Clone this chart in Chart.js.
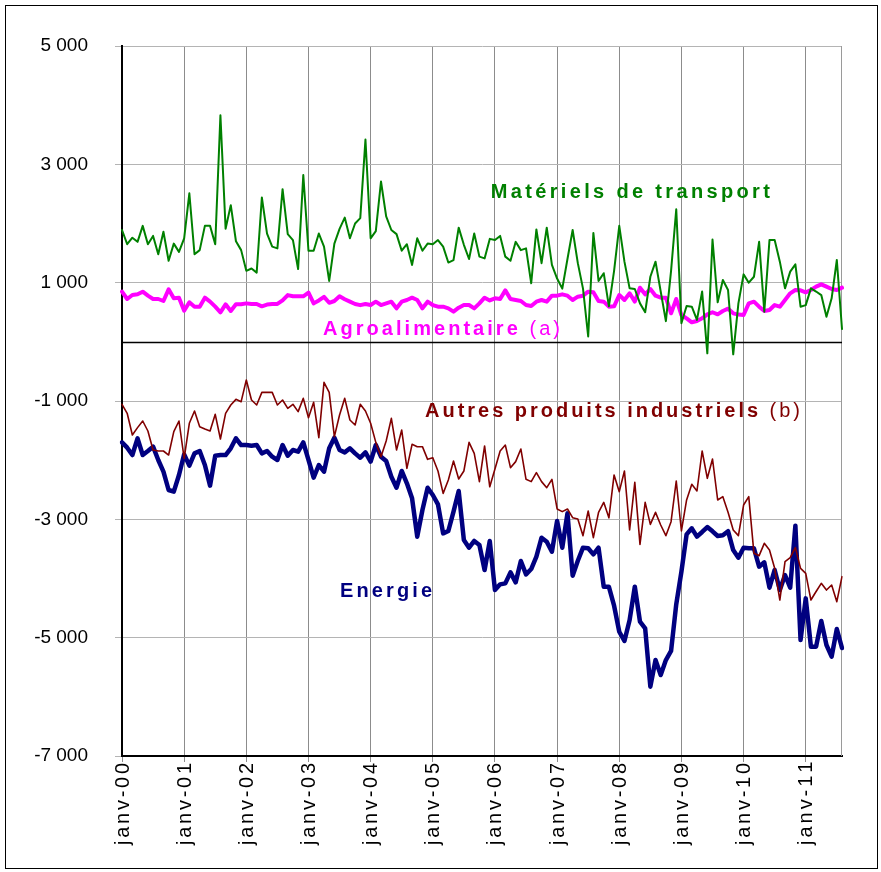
<!DOCTYPE html>
<html lang="fr">
<head>
<meta charset="UTF-8">
<title>Solde commercial par produit</title>
<script src="https://cdn.jsdelivr.net/npm/chart.js@4"></script>
<style>
  html, body { margin: 0; padding: 0; background: #fff; }
  #cadre { position: absolute; left: 0; top: 0; width: 881px; height: 872px; }
  #bord { position: absolute; left: 5px; top: 5px; width: 871px; height: 862px; border: 1px solid #000; pointer-events: none; }
</style>
</head>
<body>
<div id="cadre"><canvas id="graphique" width="881" height="872"></canvas></div>
<div id="bord"></div>
<script>
// mois de janv-00 a août-11
const annees = ['00', '01', '02', '03', '04', '05', '06', '07', '08', '09', '10', '11'];
const mois = ['janv', 'févr', 'mars', 'avr', 'mai', 'juin', 'juil', 'août', 'sept', 'oct', 'nov', 'déc'];
const categories = [];
annees.forEach(a => mois.forEach(m => { if (categories.length < 140) categories.push(m + '-' + a); }));

const materielsTransport = [
  1890, 1650, 1760, 1690, 1960, 1650, 1790, 1480, 1860, 1370, 1660, 1520,
  1750, 2510, 1480, 1550, 1960, 1960, 1650, 3830, 1910, 2310, 1700, 1550,
  1200, 1240, 1170, 2440, 1830, 1610, 1580, 2580, 1820, 1720, 1230, 2820,
  1540, 1540, 1830, 1610, 1030, 1660, 1910, 2100, 1750, 2000, 2090, 3420,
  1750, 1870, 2710, 2120, 1890, 1820, 1540, 1650, 1300, 1750, 1540, 1660,
  1650, 1720, 1610, 1340, 1380, 1930, 1640, 1400, 1830, 1440, 1410, 1740,
  1720, 1790, 1440, 1370, 1690, 1550, 1580, 990, 1900, 1330, 1930, 1300,
  1070, 900, 1400, 1890, 1330, 900, 90, 1840, 1030, 1160, 600, 1200,
  1960, 1355, 904, 893, 650, 500, 1100, 1355, 850, 350, 1200, 2240,
  313, 605, 594, 370, 850, -195, 1730, 668, 1045, 876, -211, 650,
  1140, 1000, 1100, 1690, 510, 1720, 1720, 1355, 904, 1186, 1310, 594,
  620, 904, 850, 790, 425, 735, 1383, 217
];
const agroalimentaire = [
  848, 724, 792, 803, 848, 780, 724, 724, 690, 887, 735, 746,
  527, 668, 594, 594, 746, 679, 594, 499, 634, 521, 634, 634,
  650, 640, 640, 600, 630, 640, 640, 700, 790, 770, 770, 770,
  830, 650, 700, 760, 660, 690, 770, 720, 680, 640, 620, 640,
  622, 679, 622, 650, 679, 566, 679, 707, 746, 707, 566, 679,
  622, 594, 594, 566, 510, 577, 622, 622, 566, 650, 746, 700,
  735, 724, 870, 724, 707, 690, 622, 605, 679, 707, 679, 780,
  780, 803, 780, 707, 763, 780, 848, 837, 690, 679, 594, 600,
  792, 707, 820, 679, 915, 803, 893, 780, 746, 746, 482, 724,
  453, 397, 330, 352, 397, 465, 500, 465, 521, 560, 482, 460,
  453, 650, 679, 594, 521, 538, 622, 594, 707, 820, 876, 870,
  837, 876, 932, 972, 932, 893, 876, 915
];
const autresProduits = [
  -1056, -1208, -1575, -1450, -1338, -1507, -1828, -1845, -1845, -1913, -1518, -1338,
  -1969, -1377, -1169, -1434, -1473, -1507, -1225, -1642, -1208, -1068, -972, -1011,
  -645, -983, -1068, -854, -854, -854, -1068, -983, -1124, -1056, -1180, -955,
  -1282, -1023, -1620, -684, -854, -1603, -1237, -955, -1321, -1406, -1056, -1170,
  -1377, -1699, -1941, -1676, -1293, -1828, -1490, -2138, -1732, -1772, -1772, -1986,
  -1958, -2183, -2561, -2335, -2014, -2318, -2183, -1699, -1885, -2363, -1760, -2450,
  -2150, -1845, -1744, -2127, -2025, -1811, -2324, -2363, -2211, -2363, -2465, -2324,
  -2825, -2870, -2825, -2972, -2994, -3276, -2859, -3310, -2882, -2713, -2975, -2250,
  -2532, -2183, -3180, -2375, -3423, -2713, -3085, -2882, -3096, -3276, -3040, -2352,
  -3197, -2673, -2409, -2521, -1845, -2307, -1980, -2673, -2617, -2880, -3180, -3276,
  -2758, -2617, -3575, -3614, -3406, -3518, -3828, -4364, -3716, -3648, -3479, -3828,
  -3913, -4364, -4220, -4082, -4195, -4110, -4392, -3969
];
const energie = [
  -1699, -1789, -1913, -1631, -1913, -1845, -1772, -1997, -2194, -2504, -2532, -2251,
  -1901, -2093, -1885, -1845, -2082, -2431, -1924, -1913, -1913, -1800, -1631, -1744,
  -1744, -1755, -1744, -1885, -1845, -1941, -1997, -1744, -1924, -1828, -1856, -1699,
  -1997, -2296, -2082, -2194, -1800, -1620, -1828, -1868, -1800, -1885, -1958, -1868,
  -2025, -1744, -1941, -2014, -2279, -2465, -2183, -2392, -2645, -3293, -2842, -2465,
  -2589, -2747, -3237, -3197, -2870, -2521, -3349, -3479, -3366, -3434, -3856, -3366,
  -4195, -4099, -4082, -3896, -4065, -3704, -3930, -3840, -3631, -3310, -3378, -3547,
  -3028, -3479, -2899, -3952, -3700, -3479, -3490, -3592, -3479, -4138, -4140, -4460,
  -4900, -5056, -4701, -4138, -4730, -4843, -5828, -5378, -5631, -5378, -5225, -4437,
  -3884, -3254, -3152, -3293, -3214, -3130, -3203, -3282, -3270, -3200, -3519, -3648,
  -3479, -3490, -3490, -3800, -3727, -4155, -3856, -4194, -3941, -4155, -3107, -5040,
  -4336, -5152, -5152, -4719, -5124, -5321, -4854, -5175
];

// noms des series poses sur le graphique (x = rang du mois, y = valeur)
const etiquettes = [
  { morceaux: [['Matériels de transport', 'bold']], couleur: '#008000', x: 71.2, y: 2517, largeur: 279 },
  { morceaux: [['Agroalimentaire', 'bold'], [' (a)', 'normal']], couleur: '#ff00ff', x: 38.8, y: 203, largeur: 237 },
  { morceaux: [['Autres produits industriels', 'bold'], [' (b)', 'normal']], couleur: '#800000', x: 58.5, y: -1182, largeur: 375 },
  { morceaux: [['Energie', 'bold']], couleur: '#000080', x: 42.1, y: -4223, largeur: 92 }
];

const police = "'Liberation Sans', Arial, sans-serif";

function formatMilliers(v) {
  const s = Math.abs(v).toString().replace(/\B(?=(\d{3})+(?!\d))/g, ' ');
  return (v < 0 ? '-' : '') + s;
}

// texte lettre par lettre, espacé pour tenir dans une largeur donnée
function texteEspace(ctx, morceaux, taille, largeur, x0, y0) {
  let naturel = 0, nb = 0;
  morceaux.forEach(([t, g]) => {
    ctx.font = g + ' ' + taille + 'px ' + police;
    naturel += ctx.measureText(t).width;
    nb += t.length;
  });
  const esp = (largeur - naturel) / (nb - 1);
  let px = x0;
  morceaux.forEach(([t, g]) => {
    ctx.font = g + ' ' + taille + 'px ' + police;
    for (const c of t) {
      ctx.fillText(c, px, y0);
      px += ctx.measureText(c).width + esp;
    }
  });
}

const decor = {
  id: 'decor',
  beforeDatasetsDraw(chart) {
    const { ctx, chartArea: a, scales: { y } } = chart;
    ctx.save();
    // bord droit de la zone de tracé
    ctx.strokeStyle = '#9a9a9a';
    ctx.lineWidth = 1;
    ctx.beginPath();
    ctx.moveTo(a.right - 0.5, a.top);
    ctx.lineTo(a.right - 0.5, a.bottom);
    ctx.stroke();
    // ligne du zéro
    const y0 = Math.round(y.getPixelForValue(0)) + 0.5;
    ctx.strokeStyle = '#000';
    ctx.lineWidth = 1.6;
    ctx.beginPath();
    ctx.moveTo(a.left, y0);
    ctx.lineTo(a.right, y0);
    ctx.stroke();
    ctx.restore();
  },
  afterDatasetsDraw(chart) {
    const { ctx, scales: { x, y } } = chart;
    ctx.save();
    ctx.textBaseline = 'middle';
    ctx.textAlign = 'left';
    etiquettes.forEach(e => {
      ctx.fillStyle = e.couleur;
      texteEspace(ctx, e.morceaux, 20, e.largeur, x.getPixelForValue(e.x), y.getPixelForValue(e.y));
    });
    ctx.restore();
  },
  afterDraw(chart) {
    // libellés de l'axe des mois, tournés, à chaque janvier
    const { ctx, scales: { x } } = chart;
    ctx.save();
    ctx.fillStyle = '#000';
    ctx.textBaseline = 'middle';
    ctx.textAlign = 'left';
    categories.forEach((lib, i) => {
      if (i % 12 !== 0) return;
      ctx.save();
      ctx.translate(x.getPixelForValue(i) + 1, x.top + 7);
      ctx.rotate(-Math.PI / 2);
      texteEspace(ctx, [[lib, 'normal']], 20, 82, -82, 0);
      ctx.restore();
    });
    ctx.restore();
  }
};

new Chart(document.getElementById('graphique'), {
  type: 'line',
  data: {
    labels: categories,
    datasets: [
      { label: 'Matériels de transport', data: materielsTransport, borderColor: '#008000', borderWidth: 2, order: 1 },
      { label: 'Autres produits industriels (b)', data: autresProduits, borderColor: '#800000', borderWidth: 1.6, order: 2 },
      { label: 'Agroalimentaire (a)', data: agroalimentaire, borderColor: '#ff00ff', borderWidth: 4, order: 3 },
      { label: 'Energie', data: energie, borderColor: '#000080', borderWidth: 4.5, order: 4 }
    ]
  },
  options: {
    responsive: false,
    animation: false,
    devicePixelRatio: 1,
    layout: { padding: { left: 0, top: 46, right: 39, bottom: 0 } },
    elements: {
      point: { radius: 0 },
      line: { tension: 0, borderJoinStyle: 'round', borderCapStyle: 'round' }
    },
    plugins: {
      legend: { display: false },
      tooltip: { enabled: false }
    },
    scales: {
      x: {
        type: 'category',
        offset: false,
        afterFit: s => { s.height = 116; },
        border: { color: '#000', width: 2 },
        grid: {
          color: c => (c.index % 12 === 0 ? '#8c8c8c' : 'rgba(0,0,0,0)'),
          lineWidth: 1,
          tickLength: 6
        },
        ticks: {
          autoSkip: false,
          maxRotation: 0,
          callback: () => ''
        }
      },
      y: {
        min: -7000,
        max: 5000,
        afterFit: s => { s.width = 122; },
        border: { color: '#000', width: 2 },
        grid: { color: '#b4b4b4', lineWidth: 1, tickLength: 7 },
        ticks: {
          stepSize: 2000,
          padding: 27,
          color: '#000',
          font: { family: police, size: 19 },
          callback: v => formatMilliers(v)
        }
      }
    }
  },
  plugins: [decor]
});
</script>
</body>
</html>
